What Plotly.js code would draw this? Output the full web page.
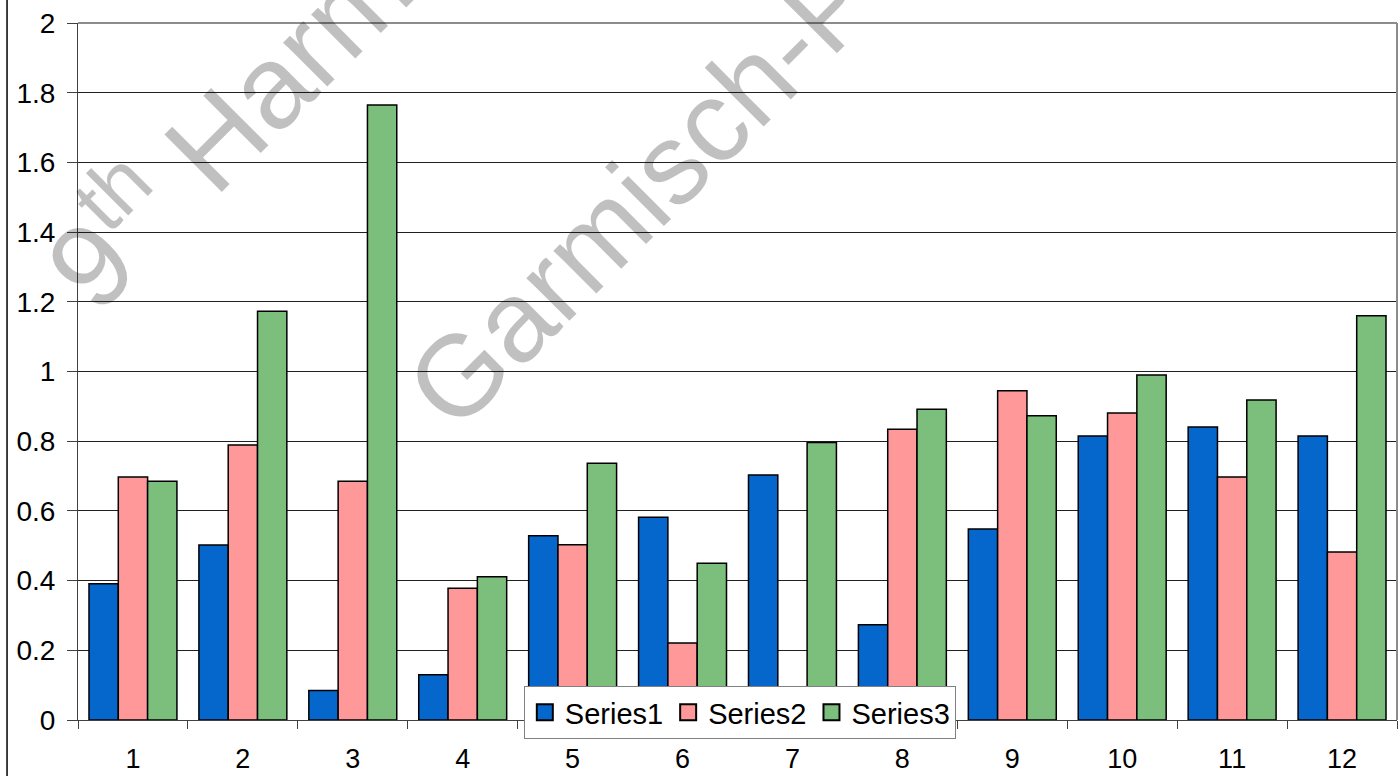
<!DOCTYPE html>
<html>
<head>
<meta charset="utf-8">
<script src="https://cdn.plot.ly/plotly-3.0.1.min.js"></script>
<style>html,body{margin:0;padding:0;background:#fff;}#chart{width:1400px;height:776px;}</style>
</head>
<body>
<div id="chart"></div>
<script>
var categories = ['1','2','3','4','5','6','7','8','9','10','11','12'];
var series1 = [0.391, 0.502, 0.085, 0.130, 0.529, 0.582, 0.703, 0.273, 0.548, 0.815, 0.841, 0.815];
var series2 = [0.697, 0.789, 0.685, 0.378, 0.503, 0.221, 0.000, 0.834, 0.945, 0.881, 0.697, 0.482];
var series3 = [0.685, 1.173, 1.765, 0.411, 0.737, 0.450, 0.796, 0.892, 0.873, 0.990, 0.918, 1.160];
var seriesNames = ['Series1', 'Series2', 'Series3'];
var yTicks = [0, 0.2, 0.4, 0.6, 0.8, 1, 1.2, 1.4, 1.6, 1.8, 2];
var watermark1 = '9<sup>th</sup> Harmo';
var watermark2 = 'Garmisch-Partenkirchen';

var FONT = 'Liberation Sans, Arial, sans-serif';
var colors = ['#0566CC', '#FF9999', '#7CBE7C'];
var vals = [series1, series2, series3];

var data = vals.map(function (v, i) {
  return {
    type: 'bar',
    name: seriesNames[i],
    x: categories,
    y: v,
    showlegend: false,
    legendgroup: seriesNames[i],
    marker: { color: colors[i], line: { color: '#000000', width: 1.5 } },
    hoverinfo: 'x+y+name'
  };
});
// legend entries (larger square swatches like the reference)
vals.forEach(function (v, i) {
  data.push({
    type: 'scatter',
    mode: 'markers',
    name: seriesNames[i],
    legendgroup: seriesNames[i],
    x: [null],
    y: [null],
    showlegend: true,
    marker: { symbol: 'square', size: 18, color: colors[i], line: { color: '#000000', width: 2 } },
    hoverinfo: 'skip'
  });
});

var layout = {
  width: 1400,
  height: 776,
  margin: { l: 78, r: 3, t: 23, b: 56, pad: 0 },
  paper_bgcolor: '#ffffff',
  plot_bgcolor: '#ffffff',
  barmode: 'group',
  bargap: 0.2,
  bargroupgap: 0,
  font: { family: FONT, size: 26, color: '#000000' },
  xaxis: {
    type: 'category',
    tickson: 'boundaries',
    ticks: 'outside',
    ticklen: 8,
    tickwidth: 1,
    tickcolor: '#404040',
    showline: true,
    linecolor: '#404040',
    linewidth: 1,
    showgrid: false,
    zeroline: false,
    ticklabelstandoff: 15,
    tickfont: { family: FONT, size: 27, color: '#000000' }
  },
  yaxis: {
    range: [0, 2],
    tickvals: yTicks,
    ticks: 'outside',
    ticklen: 10,
    tickwidth: 1,
    tickcolor: '#404040',
    showline: true,
    linecolor: '#404040',
    linewidth: 1,
    showgrid: true,
    gridcolor: '#202020',
    gridwidth: 1,
    zeroline: false,
    ticklabelstandoff: 6,
    tickfont: { family: FONT, size: 28, color: '#000000' }
  },
  legend: {
    orientation: 'h',
    x: 0.338,
    xanchor: 'left',
    y: 0.0488,
    yanchor: 'top',
    bgcolor: '#ffffff',
    bordercolor: '#808080',
    borderwidth: 1,
    font: { family: FONT, size: 29, color: '#000000' },
    traceorder: 'normal',
    itemwidth: 30
  },
  shapes: [
    { type: 'line', xref: 'paper', yref: 'paper', x0: 0, x1: 1, y0: 1, y1: 1, line: { color: '#8c8c8c', width: 2 }, layer: 'above' },
    { type: 'line', xref: 'paper', yref: 'paper', x0: 1, x1: 1, y0: 0, y1: 1, line: { color: '#8c8c8c', width: 2 }, layer: 'above' },
    { type: 'line', xref: 'paper', yref: 'paper', x0: -0.0538, x1: -0.0538, y0: -0.2, y1: 1.2, line: { color: '#000000', width: 1.5 }, layer: 'above' }
  ],
  annotations: [
    { text: watermark1, xref: 'paper', yref: 'paper', x: 0.127, y: 0.893, xanchor: 'center', yanchor: 'middle',
      textangle: -45, showarrow: false, font: { family: FONT, size: 118, color: 'rgba(0,0,0,0.247)' } },
    { text: watermark2, xref: 'paper', yref: 'paper', x: 0.597, y: 1.0795, xanchor: 'center', yanchor: 'middle',
      textangle: -45, showarrow: false, font: { family: FONT, size: 115, color: 'rgba(0,0,0,0.247)' } }
  ],
  showlegend: true
};

Plotly.newPlot('chart', data, layout, { displayModeBar: false, staticPlot: true });
</script>
</body>
</html>
